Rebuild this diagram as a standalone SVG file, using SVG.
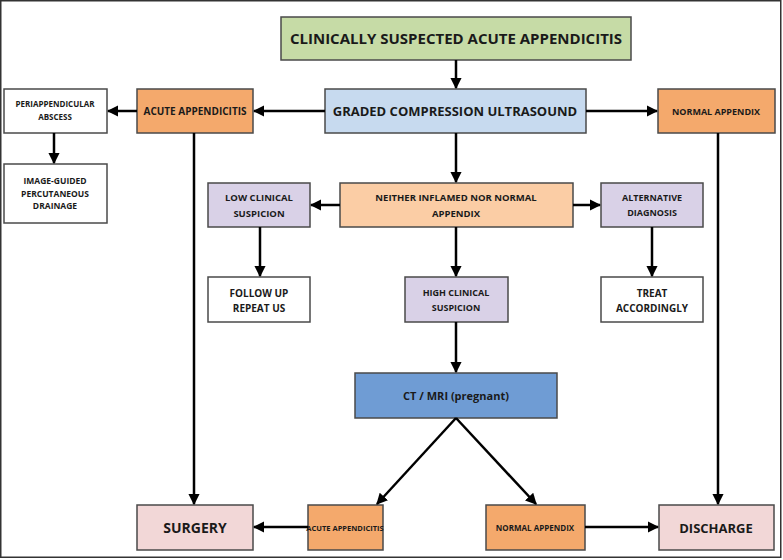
<svg xmlns="http://www.w3.org/2000/svg" width="783" height="560" viewBox="0 0 783 560">
<style>
.b{stroke:#4a4a4a;stroke-width:1.5}
.t{font-family:"Open Sans","Liberation Sans",sans-serif;font-weight:bold;fill:#1a1a1a;text-anchor:middle}
.c line{stroke:#000;stroke-width:2.5;marker-end:url(#a)}
</style>
<defs><marker id="a" viewBox="0 0 10 10" refX="9" refY="5" markerWidth="4.5" markerHeight="4.5" orient="auto" markerUnits="strokeWidth"><path d="M0,0L10,5L0,10z" fill="#000"/></marker></defs>
<rect x="0" y="0" width="783" height="560" fill="#fff"/>
<rect x="0.75" y="0.75" width="780" height="556.5" fill="none" stroke="#333" stroke-width="1.5"/>
<g id="n1"><rect class="b" x="281" y="17" width="350" height="43" fill="#c6dba6"/><text class="t" x="456" y="44" font-size="15" font-family="Liberation Sans">CLINICALLY SUSPECTED ACUTE APPENDICITIS</text></g>
<g id="n2"><rect class="b" x="325" y="89" width="261" height="44" fill="#c7daef"/><text class="t" x="455" y="116" font-size="13">GRADED COMPRESSION ULTRASOUND</text></g>
<g id="n3"><rect class="b" x="137" y="89" width="116" height="44" fill="#f4a96c"/><text class="t" x="195" y="115" font-size="10">ACUTE APPENDICITIS</text></g>
<g id="n4"><rect class="b" x="4" y="89" width="103" height="44" fill="#fff"/><text class="t" x="55" y="107" font-size="8">PERIAPPENDICULAR</text><text class="t" x="55" y="120" font-size="8">ABSCESS</text></g>
<g id="n5"><rect class="b" x="4" y="164" width="103" height="59" fill="#fff"/><text class="t" x="55" y="184" font-size="8.5">IMAGE-GUIDED</text><text class="t" x="55" y="197" font-size="8.5">PERCUTANEOUS</text><text class="t" x="55" y="209" font-size="8.5">DRAINAGE</text></g>
<g id="n6"><rect class="b" x="658" y="89" width="117" height="44" fill="#f4a96c"/><text class="t" x="716" y="115" font-size="9">NORMAL APPENDIX</text></g>
<g id="n7"><rect class="b" x="340" y="183" width="233" height="44" fill="#fbcda5"/><text class="t" x="456" y="201" font-size="9.5">NEITHER INFLAMED NOR NORMAL</text><text class="t" x="456" y="217" font-size="9.5">APPENDIX</text></g>
<g id="n8"><rect class="b" x="208" y="183" width="102" height="44" fill="#d9d1e7"/><text class="t" x="259" y="201" font-size="9.5">LOW CLINICAL</text><text class="t" x="259" y="217" font-size="9.5">SUSPICION</text></g>
<g id="n9"><rect class="b" x="601" y="183" width="102" height="44" fill="#d9d1e7"/><text class="t" x="652" y="201" font-size="9">ALTERNATIVE</text><text class="t" x="652" y="216" font-size="9">DIAGNOSIS</text></g>
<g id="n10"><rect class="b" x="208" y="277" width="102" height="45" fill="#fff"/><text class="t" x="259" y="297" font-size="10" font-weight="normal">FOLLOW UP</text><text class="t" x="259" y="312" font-size="10" font-weight="normal">REPEAT US</text></g>
<g id="n11"><rect class="b" x="405" y="277" width="103" height="45" fill="#d9d1e7"/><text class="t" x="456" y="296" font-size="9">HIGH CLINICAL</text><text class="t" x="456" y="311" font-size="9">SUSPICION</text></g>
<g id="n12"><rect class="b" x="601" y="277" width="102" height="45" fill="#fff"/><text class="t" x="652" y="297" font-size="10" font-weight="normal">TREAT</text><text class="t" x="652" y="312" font-size="10" font-weight="normal">ACCORDINGLY</text></g>
<g id="n13"><rect class="b" x="355" y="373" width="202" height="45" fill="#6f9cd4"/><text class="t" x="456" y="400" font-size="11">CT / MRI (pregnant)</text></g>
<g id="n14"><rect class="b" x="137" y="505" width="116" height="45" fill="#f2d7d7"/><text class="t" x="195" y="533" font-size="14">SURGERY</text></g>
<g id="n15"><rect class="b" x="308" y="505" width="75" height="45" fill="#f4a96c"/><text class="t" x="345" y="531" font-size="7.5">ACUTE APPENDICITIS</text></g>
<g id="n16"><rect class="b" x="486" y="505" width="99" height="45" fill="#f4a96c"/><text class="t" x="535" y="531" font-size="8">NORMAL APPENDIX</text></g>
<g id="n17"><rect class="b" x="659" y="505" width="115" height="45" fill="#f2d7d7"/><text class="t" x="716" y="533" font-size="13">DISCHARGE</text></g>
<g class="c" id="connectors">
<line x1="456" y1="60" x2="456" y2="88"/>
<line x1="325" y1="111" x2="254" y2="111"/>
<line x1="137" y1="111" x2="108" y2="111"/>
<line x1="586" y1="111" x2="657" y2="111"/>
<line x1="54" y1="133" x2="54" y2="163"/>
<line x1="194" y1="133" x2="194" y2="504"/>
<line x1="718" y1="133" x2="718" y2="504"/>
<line x1="456" y1="133" x2="456" y2="182"/>
<line x1="340" y1="205" x2="311" y2="205"/>
<line x1="573" y1="205" x2="600" y2="205"/>
<line x1="260" y1="227" x2="260" y2="276"/>
<line x1="652" y1="227" x2="652" y2="276"/>
<line x1="456" y1="227" x2="456" y2="276"/>
<line x1="456" y1="322" x2="456" y2="372"/>
<line x1="456" y1="418" x2="377" y2="504"/>
<line x1="456" y1="418" x2="536" y2="504"/>
<line x1="308" y1="527" x2="254" y2="527"/>
<line x1="585" y1="527" x2="658" y2="527"/>
</g>
</svg>
